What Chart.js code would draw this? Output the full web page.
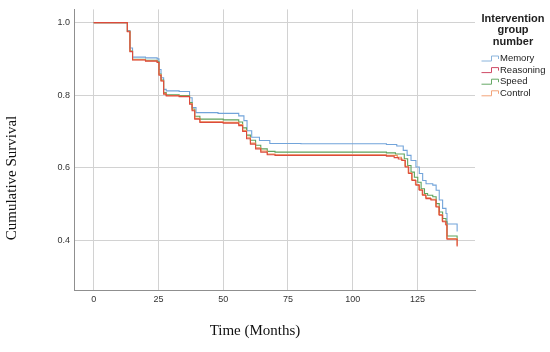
<!DOCTYPE html>
<html>
<head>
<meta charset="utf-8">
<script src="https://cdn.jsdelivr.net/npm/chart.js@4/dist/chart.umd.min.js"></script>
<style>
  html, body { margin: 0; padding: 0; background: #fff; }
  #wrap { width: 550px; height: 352px; }
</style>
</head>
<body>
<div id="wrap"><canvas id="c" width="550" height="352"></canvas></div>
<script>
// ---- data ----
const seriesNames = ["Memory", "Reasoning", "Speed", "Control"];
const legendTitle = ["Intervention", "group", "number"];
const xTitle = "Time (Months)";
const yTitle = "Cumulative Survival";
const xTickValues = [0, 25, 50, 75, 100, 125];
const yTickValues = [0.4, 0.6, 0.8, 1.0];
const yTickLabels = ["0.4", "0.6", "0.8", "1.0"];

const memoryTime = [0, 13, 14, 15, 20, 24.5, 25.2, 26, 27, 28, 33, 37, 38, 39.5, 48, 56, 58, 59.2, 61, 64, 68, 80, 113, 117, 119.5, 121, 122.5, 124.4, 125.7, 127, 128.3, 130.9, 132.2, 133.4, 134.7, 136, 136.4, 140.3];
const memorySurv = [1.0, 0.978, 0.93, 0.905, 0.903, 0.900, 0.871, 0.848, 0.816, 0.812, 0.810, 0.793, 0.766, 0.752, 0.750, 0.743, 0.730, 0.702, 0.684, 0.675, 0.667, 0.666, 0.664, 0.660, 0.648, 0.634, 0.620, 0.602, 0.584, 0.565, 0.556, 0.552, 0.538, 0.511, 0.488, 0.474, 0.445, 0.424];

const reasoningTime = [0, 13, 14, 15, 20, 24.5, 25.2, 26, 27, 28, 33, 37, 38, 39, 41, 50, 56, 57.5, 59, 60.5, 62.5, 64.5, 67, 70, 113, 116, 117.6, 119, 120.3, 121.6, 122.9, 124.4, 125.7, 127, 128.3, 130.2, 132.2, 133.4, 134.7, 136, 136.4, 140.3];
const reasoningSurv = [1.0, 0.975, 0.92, 0.897, 0.894, 0.890, 0.855, 0.839, 0.803, 0.798, 0.796, 0.775, 0.757, 0.734, 0.725, 0.723, 0.716, 0.700, 0.680, 0.665, 0.652, 0.643, 0.636, 0.634, 0.632, 0.628, 0.624, 0.620, 0.602, 0.584, 0.565, 0.552, 0.538, 0.524, 0.515, 0.511, 0.492, 0.469, 0.451, 0.442, 0.403, 0.383];

const speedTime = [0, 13, 14, 15, 20, 24.5, 25.2, 26, 27, 28, 33, 37, 38, 39, 41, 50, 56, 57.5, 59, 60.5, 62.5, 64.5, 67, 70, 113, 116.5, 119.9, 121.2, 122.5, 123.8, 125.1, 126.4, 127.7, 128.9, 130.9, 132.2, 133.4, 134.7, 136, 136.4, 140.3];
const speedSurv = [1.0, 0.976, 0.922, 0.899, 0.896, 0.893, 0.858, 0.842, 0.807, 0.801, 0.799, 0.780, 0.762, 0.742, 0.734, 0.732, 0.726, 0.710, 0.690, 0.676, 0.662, 0.652, 0.645, 0.643, 0.641, 0.638, 0.625, 0.606, 0.588, 0.574, 0.560, 0.542, 0.529, 0.524, 0.520, 0.501, 0.478, 0.460, 0.451, 0.412, 0.400];

const controlTime = [0, 13, 14, 15, 20, 24.5, 25.2, 26, 27, 28, 33, 37, 38, 39, 41, 50, 56, 57.5, 59, 60.5, 62.5, 64.5, 67, 70, 113, 117.2, 118.8, 120.1, 121.4, 122.7, 124.2, 125.5, 126.8, 128.1, 130.0, 132.0, 133.2, 134.5, 135.8, 136.3, 140.3];
const controlSurv = [1.0, 0.976, 0.921, 0.898, 0.895, 0.891, 0.857, 0.840, 0.805, 0.799, 0.797, 0.777, 0.759, 0.736, 0.727, 0.725, 0.719, 0.703, 0.684, 0.668, 0.655, 0.646, 0.638, 0.636, 0.634, 0.629, 0.621, 0.604, 0.586, 0.567, 0.554, 0.540, 0.526, 0.517, 0.513, 0.494, 0.471, 0.453, 0.444, 0.405, 0.386];

const seriesColors = ["#72a4da", "#dc4a3c", "#5ea35c", "#f0955a"];
const legendColors = ["#8ab4dc", "#cf4a66", "#66a866", "#f2a47a"];

// ---- build datasets ----
function pts(t, s) { return t.map((x, i) => ({ x: x, y: s[i] })); }
const allSeries = [
  pts(memoryTime, memorySurv),
  pts(reasoningTime, reasoningSurv),
  pts(speedTime, speedSurv),
  pts(controlTime, controlSurv)
];
const drawOrder = [3, 0, 2, 1];

const datasets = seriesNames.map((n, i) => ({
  label: n,
  data: allSeries[i],
  borderColor: seriesColors[i],
  backgroundColor: seriesColors[i],
  borderWidth: 1.1,
  pointRadius: 0,
  stepped: 'before',
  fill: false,
  order: drawOrder[i]
}));

const overlay = {
  id: 'overlay',
  afterDraw(chart) {
    const ctx = chart.ctx;
    ctx.save();
    // axis titles
    ctx.fillStyle = '#111';
    ctx.font = '15px "Liberation Serif", "Times New Roman", serif';
    ctx.textAlign = 'center';
    ctx.textBaseline = 'middle';
    ctx.fillText(xTitle, 255, 331);
    ctx.save();
    ctx.translate(12, 178);
    ctx.rotate(-Math.PI / 2);
    ctx.fillText(yTitle, 0, 0);
    ctx.restore();
    // legend title
    ctx.fillStyle = '#222';
    ctx.font = 'bold 11px "Liberation Sans", Arial, sans-serif';
    legendTitle.forEach((t, i) => ctx.fillText(t, 513, 18.5 + i * 11.7));
    // legend items
    ctx.font = '9.5px "Liberation Sans", Arial, sans-serif';
    ctx.textAlign = 'left';
    seriesNames.forEach((n, i) => {
      const y = 58.5 + i * 11.6;
      ctx.strokeStyle = legendColors[i];
      ctx.lineWidth = 1;
      ctx.beginPath();
      ctx.moveTo(481.5, y + 2.5);
      ctx.lineTo(491.5, y + 2.5);
      ctx.lineTo(491.5, y - 2.5);
      ctx.lineTo(498.5, y - 2.5);
      ctx.lineTo(498.5, y + 0.5);
      ctx.stroke();
      ctx.fillStyle = '#222';
      ctx.fillText(n, 500, y);
    });
    ctx.restore();
  }
};

new Chart(document.getElementById('c'), {
  type: 'line',
  data: { datasets: datasets },
  options: {
    responsive: false,
    animation: false,
    devicePixelRatio: 1,
    layout: { padding: { top: 8, right: 75, left: 0, bottom: 0 } },
    plugins: { legend: { display: false }, tooltip: { enabled: false } },
    scales: {
      x: {
        type: 'linear',
        min: -7.6,
        max: 147.2,
        afterBuildTicks: (s) => { s.ticks = xTickValues.map(v => ({ value: v })); },
        afterFit: (s) => { s.height = 62; },
        grid: { color: '#d2d2d2', lineWidth: 1, drawTicks: false },
        border: { color: '#8f8f8f', width: 1 },
        ticks: {
          color: '#333',
          padding: 4,
          maxRotation: 0,
          font: { family: '"Liberation Sans", Arial, sans-serif', size: 9 },
          callback: (v) => String(v)
        }
      },
      y: {
        type: 'linear',
        min: 0.263,
        max: 1.0365,
        afterBuildTicks: (s) => { s.ticks = yTickValues.map(v => ({ value: v })); },
        afterFit: (s) => { s.width = 74; },
        grid: { color: '#d2d2d2', lineWidth: 1, drawTicks: false },
        border: { color: '#8f8f8f', width: 1 },
        ticks: {
          color: '#333',
          padding: 4,
          font: { family: '"Liberation Sans", Arial, sans-serif', size: 9 },
          callback: (v) => { const i = yTickValues.indexOf(v); return i >= 0 ? yTickLabels[i] : ''; }
        }
      }
    }
  },
  plugins: [overlay]
});
</script>
</body>
</html>
